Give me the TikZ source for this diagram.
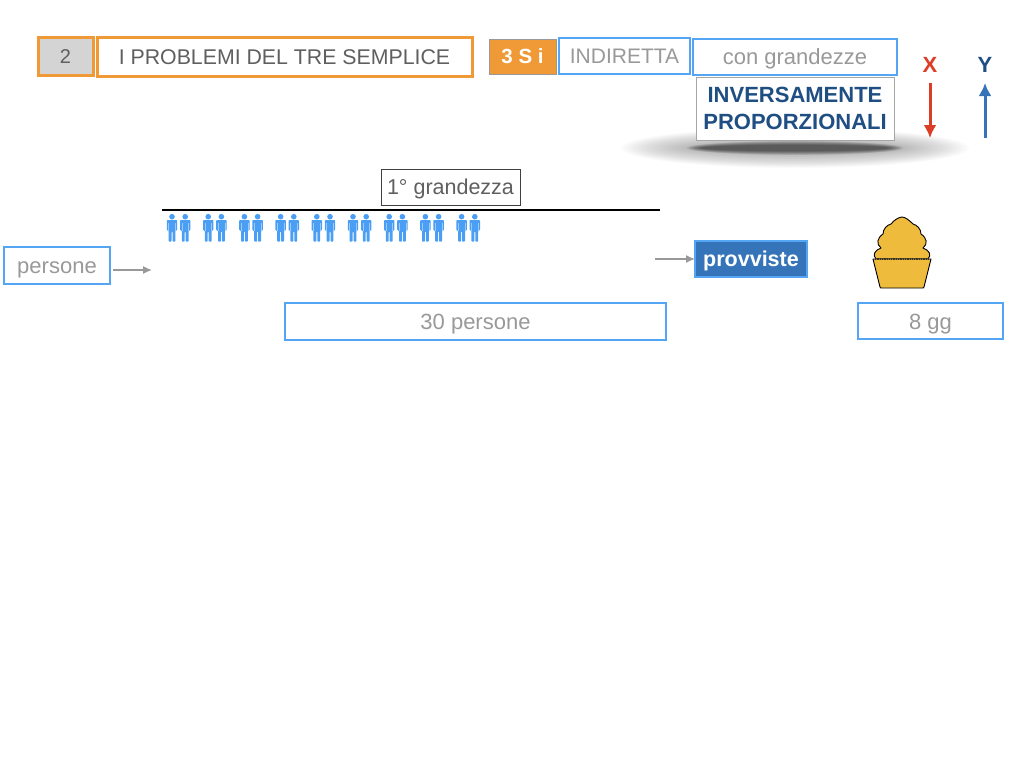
\documentclass[tikz,border=0pt]{standalone}
\usepackage{fontspec}
\setmainfont{Liberation Sans}
\usetikzlibrary{arrows.meta}
\definecolor{orangeC}{HTML}{F09A37}
\definecolor{blueL}{HTML}{55A5F5}
\definecolor{blueD}{HTML}{3574B8}
\definecolor{navyC}{HTML}{1F4E82}
\definecolor{redC}{HTML}{DC3D27}
\definecolor{grayT}{HTML}{999999}
\definecolor{grayD}{HTML}{5F5F5F}
\definecolor{cakeC}{HTML}{EFBB3D}
\definecolor{personC}{HTML}{4A9FF5}
\newcommand{\fs}[1]{\fontsize{#1}{#1}\selectfont}
% #1 = distance of the baseline below the centre of the box
\newcommand{\tx}[3]{\raisebox{0pt}[\dimexpr 2\dimexpr #1pt\relax\relax][0pt]{\fs{#2}#3}}
\newcommand{\bx}[8]{\node[#1,minimum width=#4-#3,minimum height=#6-#5,text=#7] (#2) at ({(#3+#4)/2},{(#5+#6)/2}) {#8};}
\tikzset{
 x=1pt,y=-1pt,
 every node/.style={inner sep=0pt,outer sep=0pt,align=center},
 obox/.style={draw=orangeC,line width=3pt},
 bbox/.style={draw=blueL,line width=2.2pt,fill=white},
 garrow/.style={draw=grayT,line width=1.3pt,-{Latex[length=9pt,width=8pt]}},
 varrow/.style={line width=3pt,-{Latex[length=13pt,width=13pt]}},
 figure/.pic={
  \fill[personC] (0,-9.8) circle (2.8);
  \fill[personC,rounded corners=0.8] (-5.2,-6.5) -- (5.2,-6.5) -- (5.2,4) -- (3.4,4) -- (3.4,15.2) -- (0.5,15.2) -- (0.5,5) -- (-0.5,5) -- (-0.5,15.2) -- (-3.4,15.2) -- (-3.4,4) -- (-5.2,4) -- cycle;
  \draw[white,opacity=0.45,line width=0.6pt] (-3.4,-3.5) -- (-3.4,4) (3.4,-3.5) -- (3.4,4);
 }
}
\begin{document}
\begin{tikzpicture}
\useasboundingbox (0,0) rectangle (1024,768);
% shadow
\begin{scope}
 \foreach \i in {0,...,19}{
  \fill[black,opacity=0.017] (795,148) ellipse ({174-\i*3.4} and {20-\i*0.7});
 }
 \foreach \i in {0,...,9}{
  \fill[black,opacity=0.07] (795,148) ellipse ({108-\i*1.6} and {7-\i*0.45});
 }
\end{scope}
\bx{obox,fill=black!17}{n2}{38}{93}{38}{75}{grayD}{\fs{20}2}
\bx{obox,fill=white}{title}{97}{472}{38}{76}{grayD}{\fs{21.3}I PROBLEMI DEL TRE SEMPLICE}
\bx{fill=orangeC,draw=gray!80,line width=0.8pt}{tre}{489}{556}{39}{74}{white}{\fs{20.5}\bfseries 3 S i}
\bx{bbox}{ind}{559}{690}{38}{74}{grayT}{\fs{21}INDIRETTA}
\bx{bbox}{con}{693}{897}{39}{75}{grayT}{\tx{7.5}{22}{con grandezze}}
\bx{draw=gray!70,line width=0.9pt,fill=white,font=\fontsize{22}{27}\selectfont\bfseries}{inv}{696}{894}{77}{140}{navyC}{INVERSAMENTE\\PROPORZIONALI}
\node[text=redC] (xl) at (930,65) {\fs{22}\bfseries X};
\node[text=navyC] (yl) at (985,65) {\fs{22}\bfseries Y};
\coordinate (xa) at (930,83); \coordinate (xb) at (930,138);
\coordinate (ya) at (985,138); \coordinate (yb) at (985,83);
\draw[varrow,draw=redC] (xa) -- (xb);
\draw[varrow,draw=blueD] (ya) -- (yb);
\bx{draw=black!75,line width=0.8pt,fill=white}{gr}{381}{520}{169}{205}{grayD}{\tx{7.5}{21.5}{1° grandezza}}
\coordinate (la) at (162,210); \coordinate (lb) at (660,210);
\draw[line width=2pt,black] (la) -- (lb);
\foreach \k in {0,...,8}{
 \pic at ({172+\k*36.2},{226.5}) {figure};
 \pic at ({185.2+\k*36.2},{226.5}) {figure};
}
\bx{bbox}{pers}{4}{110}{247}{284}{grayT}{\tx{7.5}{22}{persone}}
\coordinate (pa) at (113,270); \coordinate (pb) at (152,270);
\draw[garrow] (pa) -- (pb);
\bx{bbox,fill=blueD}{prov}{695}{807}{241}{277}{white}{\tx{7.7}{21.5}{\bfseries provviste}}
\coordinate (qa) at (655,259);
\draw[garrow] (qa) -- (prov.west |- qa);
\bx{bbox}{trenta}{285}{666}{303}{340}{grayT}{\tx{8.3}{22}{30 persone}}
\bx{bbox}{otto}{858}{1003}{303}{339}{grayT}{\tx{8.3}{22}{8 gg}}
% cupcake
\draw[fill=cakeC,draw=black,line width=0.9pt,line join=round]
 (876,259) .. controls (872,255) and (875,250) .. (881,248)
 .. controls (876,244) and (877,238) .. (883,234)
 .. controls (883,229) and (887,225) .. (891,224)
 .. controls (894,220) and (899,217) .. (902,217)
 .. controls (905,217) and (909,220) .. (913,224)
 .. controls (917,225) and (921,229) .. (921,234)
 .. controls (927,238) and (928,244) .. (923,248)
 .. controls (929,250) and (932,255) .. (928,259) -- cycle;
\draw[fill=cakeC,draw=black,line width=0.9pt,line join=round]
 (873,259) -- (931,259) -- (924,287) .. controls (924,288) and (923,288) .. (922,288) -- (882,288) .. controls (881,288) and (880,288) .. (880,287) -- cycle;
\draw[black!80,line width=2pt,dash pattern=on 1.3pt off 1pt] (875,258.5) -- (929,258.5);
\end{tikzpicture}
\end{document}
